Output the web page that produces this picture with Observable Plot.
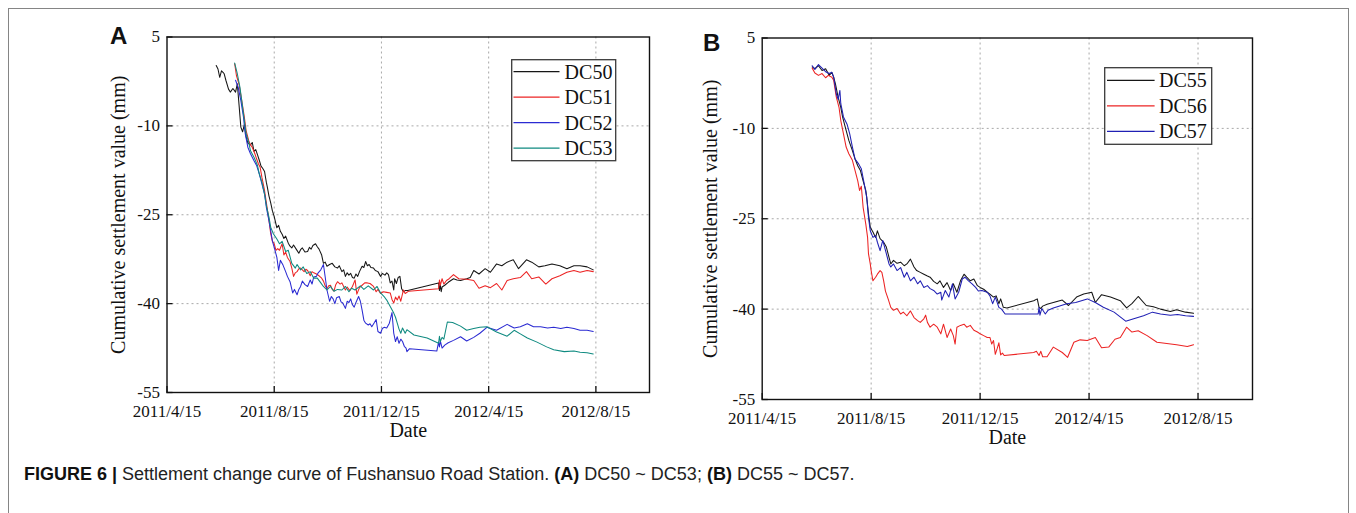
<!DOCTYPE html>
<html>
<head>
<meta charset="utf-8">
<script src="https://cdn.jsdelivr.net/npm/d3@7"></script>
<script src="https://cdn.jsdelivr.net/npm/@observablehq/plot@0.6"></script>
<style>
  html, body { margin: 0; padding: 0; background: #fff; overflow: hidden; }
  #fig { position: relative; width: 1356px; height: 513px; overflow: hidden; background: #fff; }
  #border { position: absolute; left: 8px; top: 8px; width: 1341px; height: 600px;
            border: 1px solid #858585; box-sizing: border-box; }
  .panel { position: absolute; }
  .letter { position: absolute; font-family: "Liberation Sans", Arial, sans-serif; font-weight: bold;
            font-size: 24px; line-height: 24px; color: #111; }
  .legend { position: absolute; overflow: visible; }
  #caption { position: absolute; left: 24px; top: 463px; font-family: "Liberation Sans", Arial, sans-serif;
             font-size: 18px; line-height: 22px; color: #222; white-space: nowrap; }
  #caption b { color: #111; }
</style>
</head>
<body>
<div id="fig">
  <div id="border"></div>
  <div class="letter" style="left:110px; top:24px;">A</div>
  <div class="letter" style="left:703px; top:31px;">B</div>
  <div id="caption"><b>FIGURE 6 |</b> Settlement change curve of Fushansuo Road Station. <b>(A)</b> DC50 ~ DC53; <b>(B)</b> DC55 ~ DC57.</div>
</div>
<script>
// Axis ticks and titles
const xTickDates = ["2011-04-15", "2011-08-15", "2011-12-15", "2012-04-15", "2012-08-15"];
const xDomain = ["2011-04-15", "2012-10-15"];
const yTicks = [5, -10, -25, -40, -55];
const xTitle = "Date";
const yTitle = "Cumulative settlement value (mm)";

// Panel A: monitoring points DC50 – DC53 (date, cumulative settlement in mm)
const namesA = ["DC50", "DC51", "DC52", "DC53"];
const colorsA = ["#161616", "#ec2424", "#2b2bd2", "#0f8a80"];

const dc50 = [
  ["2011-06-10",0.2],["2011-06-12",-0.4],["2011-06-14",-1.8],["2011-06-16",-0.7],["2011-06-18",-1.0],
  ["2011-06-19",-1.2],["2011-06-21",-2.3],["2011-06-24",-3.8],["2011-06-26",-4.3],["2011-06-29",-3.7],
  ["2011-07-02",-4.3],["2011-07-04",-2.9],["2011-07-06",-6.5],["2011-07-08",-10.2],["2011-07-10",-11.0],
  ["2011-07-12",-9.8],["2011-07-14",-11.8],["2011-07-16",-12.9],["2011-07-19",-13.2],["2011-07-21",-12.8],
  ["2011-07-23",-14.3],["2011-07-25",-14.0],["2011-07-27",-14.9],["2011-07-29",-15.8],["2011-07-31",-16.8],
  ["2011-08-02",-17.2],["2011-08-04",-17.7],["2011-08-06",-19.5],["2011-08-07",-20.2],["2011-08-09",-21.8],
  ["2011-08-11",-23.0],["2011-08-13",-24.4],["2011-08-15",-25.3],["2011-08-17",-26.6],["2011-08-18",-27.2],
  ["2011-08-20",-26.8],["2011-08-22",-27.8],["2011-08-24",-28.3],["2011-08-26",-29.0],["2011-08-28",-28.6],
  ["2011-08-31",-29.8],["2011-09-02",-30.3],["2011-09-04",-30.6],["2011-09-06",-30.1],["2011-09-09",-30.8],
  ["2011-09-12",-31.5],["2011-09-14",-30.9],["2011-09-16",-30.6],["2011-09-19",-31.3],["2011-09-22",-31.2],
  ["2011-09-24",-30.5],["2011-09-26",-30.8],["2011-09-28",-30.2],["2011-10-01",-29.9],["2011-10-03",-30.4],
  ["2011-10-05",-30.8],["2011-10-08",-31.8],["2011-10-10",-33.2],["2011-10-12",-33.0],["2011-10-14",-33.7],
  ["2011-10-17",-33.4],["2011-10-20",-33.2],["2011-10-23",-33.8],["2011-10-26",-34.0],["2011-10-28",-33.6],
  ["2011-10-31",-34.6],["2011-11-02",-34.3],["2011-11-04",-35.4],["2011-11-06",-34.8],["2011-11-08",-35.2],
  ["2011-11-10",-34.9],["2011-11-12",-35.6],["2011-11-14",-35.7],["2011-11-16",-35.0],["2011-11-18",-35.4],
  ["2011-11-20",-34.6],["2011-11-23",-33.7],["2011-11-25",-33.9],["2011-11-27",-32.9],["2011-11-29",-33.6],
  ["2011-12-01",-33.4],["2011-12-03",-33.9],["2011-12-06",-34.0],["2011-12-08",-34.4],["2011-12-11",-34.6],
  ["2011-12-14",-35.4],["2011-12-16",-34.9],["2011-12-19",-35.2],["2011-12-21",-34.8],["2011-12-23",-35.1],
  ["2011-12-25",-36.5],["2011-12-27",-36.2],["2011-12-29",-37.7],["2011-12-30",-35.8],["2012-01-01",-36.6],
  ["2012-01-03",-35.6],["2012-01-05",-35.4],["2012-01-07",-37.5],["2012-01-09",-38.0],["2012-01-11",-37.8],
  ["2012-01-14",-37.8],["2012-02-18",-36.5],["2012-02-19",-37.8],["2012-02-20",-36.8],["2012-02-21",-38.0],
  ["2012-02-22",-37.2],["2012-02-25",-36.9],["2012-02-29",-36.4],["2012-03-06",-35.8],["2012-03-10",-36.0],
  ["2012-03-14",-36.1],["2012-03-21",-35.8],["2012-03-25",-35.6],["2012-03-29",-34.4],["2012-04-04",-35.0],
  ["2012-04-11",-34.1],["2012-04-17",-34.7],["2012-04-24",-33.3],["2012-04-30",-33.6],["2012-05-06",-33.0],
  ["2012-05-13",-32.6],["2012-05-19",-34.1],["2012-05-28",-32.6],["2012-06-03",-33.0],["2012-06-11",-33.8],
  ["2012-06-18",-33.6],["2012-06-26",-33.3],["2012-07-05",-33.6],["2012-07-13",-34.1],["2012-07-21",-33.6],
  ["2012-07-28",-33.6],["2012-08-05",-33.8],["2012-08-12",-34.3]
];

const dc51 = [
  ["2011-07-01",0.5],["2011-07-03",-1.5],["2011-07-06",-3.0],["2011-07-09",-5.7],["2011-07-12",-8.5],
  ["2011-07-14",-10.8],["2011-07-17",-12.5],["2011-07-19",-13.2],["2011-07-21",-13.6],["2011-07-24",-14.7],
  ["2011-07-26",-15.6],["2011-07-28",-16.4],["2011-07-30",-17.0],["2011-08-01",-18.7],["2011-08-04",-20.9],
  ["2011-08-06",-22.9],["2011-08-09",-25.9],["2011-08-11",-28.2],["2011-08-13",-29.5],["2011-08-15",-29.9],
  ["2011-08-17",-31.0],["2011-08-19",-30.7],["2011-08-21",-31.0],["2011-08-24",-29.9],["2011-08-26",-31.8],
  ["2011-08-28",-31.3],["2011-08-30",-32.2],["2011-09-02",-32.9],["2011-09-04",-34.0],["2011-09-06",-35.4],
  ["2011-09-08",-34.8],["2011-09-10",-34.6],["2011-09-12",-34.1],["2011-09-14",-34.0],["2011-09-16",-34.3],
  ["2011-09-18",-34.6],["2011-09-20",-34.2],["2011-09-22",-34.4],["2011-09-25",-35.3],["2011-09-27",-34.6],
  ["2011-09-29",-34.8],["2011-10-02",-35.0],["2011-10-05",-35.3],["2011-10-08",-35.7],["2011-10-10",-36.2],
  ["2011-10-12",-37.0],["2011-10-14",-37.5],["2011-10-16",-37.0],["2011-10-18",-36.9],["2011-10-20",-37.6],
  ["2011-10-22",-37.9],["2011-10-24",-36.8],["2011-10-26",-36.3],["2011-10-29",-36.7],["2011-10-31",-36.5],
  ["2011-11-02",-37.1],["2011-11-04",-37.7],["2011-11-06",-37.2],["2011-11-09",-37.8],["2011-11-12",-37.1],
  ["2011-11-15",-36.0],["2011-11-17",-38.4],["2011-11-20",-37.3],["2011-11-23",-36.9],["2011-11-26",-36.5],
  ["2011-11-29",-36.5],["2011-12-02",-36.6],["2011-12-06",-37.1],["2011-12-09",-38.0],["2011-12-11",-37.6],
  ["2011-12-14",-38.3],["2011-12-17",-38.0],["2011-12-21",-38.1],["2011-12-25",-38.2],["2011-12-27",-39.3],
  ["2011-12-29",-39.9],["2011-12-31",-38.9],["2012-01-02",-39.4],["2012-01-04",-38.7],["2012-01-06",-39.6],
  ["2012-01-08",-38.3],["2012-01-09",-37.7],["2012-01-11",-38.3],["2012-01-15",-37.9],["2012-02-18",-37.5],
  ["2012-02-19",-36.0],["2012-02-20",-36.9],["2012-02-22",-35.8],["2012-02-24",-36.7],["2012-02-27",-36.1],
  ["2012-03-01",-35.8],["2012-03-06",-35.1],["2012-03-12",-35.8],["2012-03-21",-35.9],["2012-03-29",-36.1],
  ["2012-04-04",-37.4],["2012-04-11",-37.0],["2012-04-17",-37.3],["2012-04-24",-36.6],["2012-04-30",-37.7],
  ["2012-05-06",-36.1],["2012-05-13",-35.8],["2012-05-21",-35.6],["2012-05-28",-34.6],["2012-06-03",-35.8],
  ["2012-06-11",-35.5],["2012-06-19",-36.7],["2012-06-26",-35.8],["2012-07-05",-35.3],["2012-07-13",-34.7],
  ["2012-07-21",-34.4],["2012-07-28",-34.7],["2012-08-05",-34.4],["2012-08-12",-34.6]
];

const dc52 = [
  ["2011-07-02",-2.3],["2011-07-05",-3.5],["2011-07-08",-5.7],["2011-07-11",-8.5],["2011-07-13",-11.3],
  ["2011-07-16",-13.6],["2011-07-19",-14.7],["2011-07-23",-15.9],["2011-07-26",-16.7],["2011-07-29",-18.1],
  ["2011-08-01",-19.8],["2011-08-04",-21.5],["2011-08-06",-23.7],["2011-08-09",-26.0],["2011-08-11",-27.7],
  ["2011-08-13",-29.5],["2011-08-15",-30.5],["2011-08-18",-32.2],["2011-08-20",-34.4],["2011-08-22",-32.7],
  ["2011-08-25",-33.5],["2011-08-28",-34.6],["2011-08-30",-35.4],["2011-09-02",-36.3],["2011-09-05",-38.2],
  ["2011-09-07",-37.6],["2011-09-10",-38.5],["2011-09-12",-37.6],["2011-09-14",-37.1],["2011-09-16",-36.2],
  ["2011-09-19",-36.8],["2011-09-22",-37.1],["2011-09-25",-36.0],["2011-09-27",-36.7],["2011-09-29",-35.5],
  ["2011-10-02",-35.4],["2011-10-04",-34.8],["2011-10-07",-34.3],["2011-10-10",-33.4],["2011-10-12",-35.5],
  ["2011-10-14",-37.7],["2011-10-17",-39.6],["2011-10-19",-38.8],["2011-10-21",-39.2],["2011-10-23",-40.0],
  ["2011-10-25",-39.0],["2011-10-28",-38.8],["2011-10-30",-39.7],["2011-11-01",-39.9],["2011-11-04",-40.8],
  ["2011-11-06",-39.6],["2011-11-08",-39.8],["2011-11-10",-39.2],["2011-11-12",-40.2],["2011-11-14",-40.6],
  ["2011-11-16",-39.8],["2011-11-19",-38.8],["2011-11-21",-39.6],["2011-11-23",-41.1],["2011-11-25",-42.8],
  ["2011-11-27",-43.3],["2011-11-30",-43.6],["2011-12-02",-43.4],["2011-12-04",-43.9],["2011-12-07",-43.2],
  ["2011-12-09",-42.7],["2011-12-11",-44.7],["2011-12-14",-45.0],["2011-12-16",-44.2],["2011-12-18",-44.0],
  ["2011-12-21",-44.1],["2011-12-24",-43.3],["2011-12-27",-41.5],["2011-12-29",-45.0],["2011-12-31",-46.4],
  ["2012-01-02",-45.6],["2012-01-04",-46.7],["2012-01-06",-46.0],["2012-01-08",-46.4],["2012-01-10",-47.2],
  ["2012-01-12",-47.5],["2012-01-13",-48.1],["2012-01-16",-47.6],["2012-02-16",-48.0],["2012-02-18",-46.5],
  ["2012-02-19",-47.3],["2012-02-20",-46.3],["2012-02-22",-47.5],["2012-02-25",-47.0],["2012-02-29",-46.6],
  ["2012-03-06",-46.2],["2012-03-14",-45.6],["2012-03-21",-46.3],["2012-03-29",-45.7],["2012-04-05",-45.0],
  ["2012-04-13",-44.0],["2012-04-24",-44.5],["2012-05-06",-43.5],["2012-05-14",-44.1],["2012-05-21",-43.9],
  ["2012-05-29",-43.4],["2012-06-05",-43.9],["2012-06-13",-43.9],["2012-06-21",-44.1],["2012-06-28",-44.0],
  ["2012-07-06",-44.2],["2012-07-13",-44.0],["2012-07-21",-44.2],["2012-07-28",-44.5],["2012-08-05",-44.5],
  ["2012-08-12",-44.7]
];

const dc53 = [
  ["2011-07-01",0.6],["2011-07-04",-1.2],["2011-07-07",-3.5],["2011-07-09",-5.7],["2011-07-12",-9.1],
  ["2011-07-14",-11.3],["2011-07-17",-12.8],["2011-07-19",-14.2],["2011-07-23",-15.3],["2011-07-27",-16.7],
  ["2011-07-29",-18.1],["2011-08-01",-19.5],["2011-08-04",-21.5],["2011-08-06",-23.4],["2011-08-09",-25.4],
  ["2011-08-11",-27.1],["2011-08-14",-28.2],["2011-08-18",-29.1],["2011-08-21",-29.9],["2011-08-24",-29.5],
  ["2011-08-28",-31.2],["2011-08-31",-31.0],["2011-09-04",-33.2],["2011-09-08",-34.0],["2011-09-10",-33.4],
  ["2011-09-14",-34.3],["2011-09-17",-33.8],["2011-09-21",-34.9],["2011-09-25",-34.6],["2011-09-29",-35.7],
  ["2011-10-03",-35.7],["2011-10-07",-36.5],["2011-10-10",-37.1],["2011-10-14",-37.7],["2011-10-18",-37.1],
  ["2011-10-22",-37.9],["2011-10-26",-37.6],["2011-10-31",-37.7],["2011-11-04",-37.1],["2011-11-08",-38.0],
  ["2011-11-11",-37.4],["2011-11-15",-37.7],["2011-11-21",-37.0],["2011-11-25",-37.6],["2011-11-30",-37.0],
  ["2011-12-06",-37.7],["2011-12-10",-37.1],["2011-12-14",-38.2],["2011-12-18",-38.8],["2011-12-21",-39.4],
  ["2011-12-25",-40.5],["2011-12-29",-41.6],["2011-12-31",-42.3],["2012-01-02",-43.3],["2012-01-04",-44.3],
  ["2012-01-06",-45.0],["2012-01-08",-44.1],["2012-01-11",-45.0],["2012-01-13",-44.4],["2012-01-21",-45.3],
  ["2012-02-05",-45.8],["2012-02-18",-46.7],["2012-02-19",-45.5],["2012-02-20",-46.4],["2012-02-22",-45.7],
  ["2012-02-24",-46.0],["2012-02-28",-43.1],["2012-03-05",-43.2],["2012-03-14",-43.8],["2012-03-21",-44.5],
  ["2012-03-29",-44.2],["2012-04-05",-44.0],["2012-04-13",-43.9],["2012-04-24",-44.8],["2012-05-06",-45.5],
  ["2012-05-14",-44.5],["2012-05-21",-45.1],["2012-05-29",-45.8],["2012-06-09",-46.5],["2012-06-20",-47.3],
  ["2012-06-28",-47.8],["2012-07-10",-48.1],["2012-07-21",-48.0],["2012-07-28",-48.2],["2012-08-05",-48.3],
  ["2012-08-12",-48.5]
];

// Panel B: monitoring points DC55 – DC57
const namesB = ["DC55", "DC56", "DC57"];
const colorsB = ["#161616", "#ec2424", "#2020b4"];

const dc55 = [
  ["2011-06-10",0.2],["2011-06-13",-0.1],["2011-06-17",0.4],["2011-06-21",-0.4],["2011-06-25",-0.1],
  ["2011-06-29",-1.2],["2011-07-02",-0.7],["2011-07-04",-1.5],["2011-07-06",-2.6],["2011-07-09",-4.8],
  ["2011-07-12",-6.5],["2011-07-14",-8.1],["2011-07-17",-9.8],["2011-07-21",-12.0],["2011-07-25",-13.7],
  ["2011-07-28",-15.1],["2011-07-31",-16.2],["2011-08-03",-17.0],["2011-08-06",-18.7],["2011-08-09",-20.3],
  ["2011-08-10",-21.4],["2011-08-12",-24.2],["2011-08-14",-26.4],["2011-08-17",-27.2],["2011-08-20",-28.1],
  ["2011-08-22",-27.0],["2011-08-25",-28.3],["2011-08-29",-28.9],["2011-09-01",-29.7],["2011-09-04",-31.4],
  ["2011-09-06",-32.5],["2011-09-09",-31.9],["2011-09-13",-32.4],["2011-09-17",-32.2],["2011-09-21",-32.8],
  ["2011-09-24",-32.5],["2011-09-28",-31.7],["2011-10-02",-33.0],["2011-10-05",-33.6],["2011-10-09",-33.9],
  ["2011-10-13",-34.2],["2011-10-17",-34.5],["2011-10-20",-34.7],["2011-10-24",-35.4],["2011-10-28",-35.8],
  ["2011-10-31",-35.3],["2011-11-04",-36.4],["2011-11-08",-35.6],["2011-11-12",-36.9],["2011-11-15",-35.8],
  ["2011-11-19",-37.2],["2011-11-23",-35.3],["2011-11-27",-34.2],["2011-11-30",-34.7],["2011-12-04",-35.3],
  ["2011-12-08",-35.0],["2011-12-12",-36.1],["2011-12-15",-36.4],["2011-12-19",-36.7],["2011-12-23",-37.2],
  ["2011-12-26",-37.5],["2011-12-30",-38.0],["2012-01-02",-37.8],["2012-01-05",-39.1],["2012-01-07",-38.3],
  ["2012-01-10",-39.7],["2012-01-14",-39.8],["2012-02-13",-38.6],["2012-02-17",-38.3],["2012-02-19",-39.7],
  ["2012-02-21",-39.9],["2012-02-23",-39.5],["2012-02-28",-39.2],["2012-03-06",-38.9],["2012-03-16",-38.5],
  ["2012-03-23",-39.4],["2012-04-01",-38.0],["2012-04-09",-37.5],["2012-04-18",-37.2],["2012-04-22",-38.9],
  ["2012-04-29",-37.6],["2012-05-09",-38.0],["2012-05-20",-38.6],["2012-05-27",-39.8],["2012-06-02",-39.1],
  ["2012-06-09",-37.9],["2012-06-18",-39.4],["2012-06-26",-39.6],["2012-07-04",-40.0],["2012-07-15",-40.4],
  ["2012-07-22",-40.1],["2012-08-01",-40.5],["2012-08-10",-40.7]
];

const dc56 = [
  ["2011-06-10",0.0],["2011-06-13",-0.8],["2011-06-17",-1.2],["2011-06-21",-0.9],["2011-06-25",-1.6],
  ["2011-06-28",-1.2],["2011-07-02",-1.5],["2011-07-04",-2.0],["2011-07-07",-4.8],["2011-07-10",-6.5],
  ["2011-07-12",-8.7],["2011-07-15",-10.9],["2011-07-18",-13.1],["2011-07-21",-14.2],["2011-07-25",-15.3],
  ["2011-07-28",-17.0],["2011-07-31",-18.7],["2011-08-02",-20.3],["2011-08-04",-19.6],["2011-08-06",-23.1],
  ["2011-08-09",-25.9],["2011-08-11",-28.1],["2011-08-12",-30.8],["2011-08-14",-32.5],["2011-08-15",-33.6],
  ["2011-08-17",-35.3],["2011-08-20",-34.7],["2011-08-22",-34.2],["2011-08-25",-33.6],["2011-08-27",-33.9],
  ["2011-08-29",-35.3],["2011-08-31",-37.0],["2011-09-03",-38.3],["2011-09-06",-39.7],["2011-09-09",-40.2],
  ["2011-09-13",-39.9],["2011-09-17",-40.8],["2011-09-20",-40.5],["2011-09-24",-41.1],["2011-09-28",-40.3],
  ["2011-10-02",-41.4],["2011-10-06",-41.9],["2011-10-09",-42.2],["2011-10-13",-41.6],["2011-10-15",-41.0],
  ["2011-10-17",-42.2],["2011-10-20",-43.0],["2011-10-24",-42.5],["2011-10-28",-43.0],["2011-11-01",-44.1],
  ["2011-11-04",-42.5],["2011-11-08",-44.7],["2011-11-12",-43.3],["2011-11-15",-44.4],["2011-11-17",-45.8],
  ["2011-11-19",-43.0],["2011-11-23",-42.7],["2011-11-27",-42.5],["2011-11-30",-43.0],["2011-12-04",-42.7],
  ["2011-12-08",-43.5],["2011-12-12",-43.8],["2011-12-15",-44.1],["2011-12-19",-44.4],["2011-12-23",-44.7],
  ["2011-12-26",-44.7],["2011-12-28",-45.8],["2011-12-30",-45.2],["2012-01-01",-47.5],["2012-01-03",-46.6],
  ["2012-01-05",-45.6],["2012-01-07",-47.6],["2012-01-09",-47.3],["2012-01-11",-47.7],["2012-02-13",-47.2],
  ["2012-02-16",-47.0],["2012-02-19",-47.7],["2012-02-21",-47.0],["2012-02-23",-47.9],["2012-02-28",-47.9],
  ["2012-03-06",-46.3],["2012-03-16",-47.2],["2012-03-22",-48.0],["2012-03-29",-45.5],["2012-04-05",-45.1],
  ["2012-04-13",-45.2],["2012-04-22",-44.7],["2012-04-29",-46.4],["2012-05-07",-46.3],["2012-05-14",-45.0],
  ["2012-05-20",-44.7],["2012-05-27",-43.0],["2012-06-02",-43.8],["2012-06-09",-43.6],["2012-06-19",-44.4],
  ["2012-06-30",-45.5],["2012-07-11",-45.7],["2012-07-22",-45.9],["2012-08-03",-46.2],["2012-08-10",-45.9]
];

const dc57 = [
  ["2011-06-10",0.4],["2011-06-13",-0.2],["2011-06-17",0.6],["2011-06-21",0.0],["2011-06-25",-0.6],
  ["2011-06-29",-0.9],["2011-07-02",-0.7],["2011-07-04",-1.5],["2011-07-07",-4.3],["2011-07-09",-5.2],
  ["2011-07-11",-3.7],["2011-07-12",-5.9],["2011-07-15",-8.1],["2011-07-19",-9.3],["2011-07-22",-10.9],
  ["2011-07-25",-13.1],["2011-07-28",-15.1],["2011-08-01",-15.9],["2011-08-04",-16.7],["2011-08-07",-19.0],
  ["2011-08-10",-21.4],["2011-08-12",-24.8],["2011-08-14",-27.0],["2011-08-17",-28.1],["2011-08-20",-27.8],
  ["2011-08-22",-28.9],["2011-08-25",-30.3],["2011-08-28",-28.6],["2011-09-01",-30.8],["2011-09-04",-32.5],
  ["2011-09-06",-33.0],["2011-09-09",-32.5],["2011-09-13",-33.6],["2011-09-17",-33.1],["2011-09-21",-34.7],
  ["2011-09-24",-33.9],["2011-09-28",-35.3],["2011-10-02",-34.7],["2011-10-06",-35.8],["2011-10-09",-35.3],
  ["2011-10-13",-36.4],["2011-10-17",-36.1],["2011-10-20",-36.6],["2011-10-24",-36.9],["2011-10-28",-37.5],
  ["2011-11-01",-37.2],["2011-11-02",-38.5],["2011-11-06",-36.9],["2011-11-10",-38.0],["2011-11-14",-35.8],
  ["2011-11-17",-38.3],["2011-11-21",-37.2],["2011-11-25",-35.0],["2011-11-28",-34.7],["2011-12-02",-35.3],
  ["2011-12-06",-35.8],["2011-12-10",-36.4],["2011-12-13",-37.0],["2011-12-17",-36.9],["2011-12-23",-37.2],
  ["2011-12-26",-37.8],["2011-12-29",-39.1],["2012-01-01",-38.0],["2012-01-05",-39.7],["2012-01-08",-40.0],
  ["2012-01-12",-40.8],["2012-02-18",-40.8],["2012-02-19",-39.7],["2012-02-20",-41.0],["2012-02-22",-39.9],
  ["2012-02-26",-40.8],["2012-02-29",-40.2],["2012-03-06",-39.8],["2012-03-21",-39.1],["2012-03-31",-38.9],
  ["2012-04-13",-38.3],["2012-04-22",-38.9],["2012-05-01",-39.7],["2012-05-13",-40.5],["2012-05-26",-42.0],
  ["2012-06-04",-41.6],["2012-06-15",-41.1],["2012-06-25",-40.5],["2012-07-04",-40.8],["2012-07-15",-41.0],
  ["2012-07-23",-40.9],["2012-08-01",-41.1],["2012-08-10",-41.2]
];

const parseDay = d3.utcParse("%Y-%m-%d");
const fmtDay = d3.utcFormat("%Y/%-m/%-d");
const toRows = (pairs) => pairs.map(([d, v]) => ({date: parseDay(d), value: v}));

function drawPanel({series, names, colors, left, top, width, height, margins, xPad, xTitleDy, yTitleDx, legend}) {
  const xTicks = xTickDates.map(parseDay);
  const xGrid = xTicks.slice(1);
  const yGrid = yTicks.filter((v) => v !== yTicks[0] && v !== yTicks[yTicks.length - 1]);
  const chart = Plot.plot({
    width, height,
    marginLeft: margins[0], marginRight: margins[1], marginTop: margins[2], marginBottom: margins[3],
    style: {fontFamily: "'Liberation Serif', 'Times New Roman', serif", fontSize: "17px", color: "#111",
            background: "transparent", overflow: "visible"},
    x: {type: "utc", domain: xDomain.map(parseDay)},
    y: {domain: [yTicks[yTicks.length - 1], yTicks[0]]},
    marks: [
      Plot.gridX(xGrid, {stroke: "#a8a8a8", strokeOpacity: 1, strokeDasharray: "2,3"}),
      Plot.gridY(yGrid, {stroke: "#a8a8a8", strokeOpacity: 1, strokeDasharray: "2,3"}),
      ...series.map((s, i) => Plot.line(toRows(s), {x: "date", y: "value", stroke: colors[i], strokeWidth: 1.05})),
      Plot.frame({stroke: "#111", strokeWidth: 1.4}),
      Plot.axisX(xTicks, {tickSize: -6, tickPadding: xPad, tickFormat: fmtDay, label: null,
                          fontSize: 17, strokeWidth: 1.3}),
      Plot.axisY(yTicks, {tickSize: -6, tickPadding: 13, tickFormat: (d) => String(d), label: null,
                          fontSize: 17, strokeWidth: 1.3}),
      Plot.text([xTitle], {text: (d) => d, frameAnchor: "bottom", dy: xTitleDy, fontSize: 20}),
      Plot.text([yTitle], {text: (d) => d, frameAnchor: "left", textAnchor: "middle", dx: yTitleDx,
                           rotate: -90, fontSize: 20})
    ]
  });
  const holder = document.createElement("div");
  holder.className = "panel";
  holder.style.left = left + "px";
  holder.style.top = top + "px";
  holder.appendChild(chart);
  document.getElementById("fig").appendChild(holder);

  // Legend box: line sample + series name per row
  const svg = d3.select("#fig").append("svg")
    .attr("class", "legend")
    .style("left", legend.left + "px").style("top", legend.top + "px")
    .attr("width", legend.width + 2).attr("height", legend.height + 2);
  svg.append("rect")
    .attr("x", 0.7).attr("y", 0.7).attr("width", legend.width).attr("height", legend.height)
    .attr("fill", "#fff").attr("stroke", "#3a3a3a").attr("stroke-width", 1.3);
  names.forEach((name, i) => {
    const cy = legend.first + i * legend.step;
    svg.append("line")
      .attr("x1", legend.lineX).attr("x2", legend.lineX + legend.lineLen)
      .attr("y1", cy).attr("y2", cy)
      .attr("stroke", colors[i]).attr("stroke-width", 1.2);
    svg.append("text")
      .attr("x", legend.textX).attr("y", cy + 6.8)
      .attr("font-family", "'Liberation Serif', 'Times New Roman', serif")
      .attr("font-size", 20).attr("fill", "#111")
      .text(name);
  });
}

drawPanel({
  series: [dc50, dc51, dc52, dc53], names: namesA, colors: colorsA,
  left: 90, top: 20, width: 580, height: 430, margins: [76.5, 21, 16.5, 58],
  xPad: 18.4, xTitleDy: 44.5, yTitleDx: -48.7,
  legend: {left: 511, top: 59, width: 104, height: 101, first: 12.7, step: 25.5, lineX: 2.5, lineLen: 46, textX: 53.6}
});

drawPanel({
  series: [dc55, dc56, dc57], names: namesB, colors: colorsB,
  left: 680, top: 20, width: 590, height: 440, margins: [81.7, 18, 17.5, 61],
  xPad: 18.4, xTitleDy: 44, yTitleDx: -51.7,
  legend: {left: 1104, top: 66.7, width: 107, height: 76.6, first: 13.3, step: 25.5, lineX: 3, lineLen: 47.6, textX: 55}
});
</script>
</body>
</html>
